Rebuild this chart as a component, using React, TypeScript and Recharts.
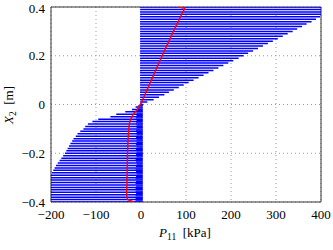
import React from 'react';
import { ComposedChart, Line, XAxis, YAxis, CartesianGrid, ReferenceArea } from 'recharts';

const X_TICKS = [-200, -100, 0, 100, 200, 300, 400];
const Y_TICKS = [-0.4, -0.2, 0, 0.2, 0.4];

// y positions of the blue stress bars
const Y_LEVELS = [
  0.4, 0.39, 0.38, 0.37, 0.36, 0.35, 0.34, 0.33, 0.32, 0.31,
  0.3, 0.29, 0.28, 0.27, 0.26, 0.25, 0.24, 0.23, 0.22, 0.21,
  0.2, 0.19, 0.18, 0.17, 0.16, 0.15, 0.14, 0.13, 0.12, 0.11,
  0.1, 0.09, 0.08, 0.07, 0.06, 0.05, 0.04, 0.03, 0.02, 0.01,
  0,
  -0.01, -0.02, -0.03, -0.04, -0.05, -0.06, -0.07, -0.08, -0.09, -0.1,
  -0.11, -0.12, -0.13, -0.14, -0.15, -0.16, -0.17, -0.18, -0.19, -0.2,
  -0.21, -0.22, -0.23, -0.24, -0.25, -0.26, -0.27, -0.28, -0.29, -0.3,
  -0.31, -0.32, -0.33, -0.34, -0.35, -0.36, -0.37, -0.38, -0.39, -0.4,
];
// P11 value reached by each bar (kPa)
const P_ENDS = [
  400, 400, 400, 400, 398, 389, 379, 368, 358, 347,
  337, 326, 315, 304, 293, 282, 271, 260, 249, 238,
  228, 217, 205, 194, 183, 172, 161, 150, 139, 128,
  117, 106, 95, 84, 73, 62, 52, 40, 28, 14,
  5,
  -12, -20, -35, -55, -68, -95, -108, -118, -124, -128,
  -135, -141, -145, -150, -153, -157, -160, -163, -166, -169,
  -173, -177, -181, -185, -189, -192, -195, -198, -200, -200,
  -200, -200, -200, -200, -200, -200, -200, -200, -200, -200,
];
const TOP_BASE = -2;
const BOTTOM_BASE = 4;

// dense short bars near zero in the lower half
const BAND_Y = [
  -0.005, -0.015, -0.025, -0.035, -0.045, -0.055, -0.065, -0.075, -0.085, -0.095,
  -0.105, -0.115, -0.125, -0.135, -0.145, -0.155, -0.165, -0.175, -0.185, -0.195,
  -0.205, -0.215, -0.225, -0.235, -0.245, -0.255, -0.265, -0.275, -0.285, -0.295,
  -0.305, -0.315, -0.325, -0.335, -0.345, -0.355, -0.365, -0.375, -0.385, -0.395,
];
const BAND_ENDS = [
  -6, -8, -9, -10, -10, -11, -10, -11, -10, -10,
  -11, -10, -10, -11, -10, -10, -11, -10, -11, -10,
  -11, -10, -12, -11, -10, -11, -12, -11, -10, -11,
  -12, -11, -12, -11, -12, -12, -11, -12, -12, -12,
];

// red mean curve
const RED_Y = [-0.4, -0.39, -0.37, -0.3, -0.2, -0.15, -0.1, -0.08, -0.06, -0.04, -0.02, 0, 0.1, 0.2, 0.3, 0.395, 0.4];
const RED_P = [-17, -30, -32, -31, -30, -29, -27, -26, -23, -17, -8, -1, 23, 47, 72, 97, 83];

const barData = Y_LEVELS.flatMap((y, i) => [
  { x: y >= 0 ? TOP_BASE : BOTTOM_BASE, y },
  { x: P_ENDS[i], y },
  { x: P_ENDS[i], y: null },
]);
const bandData = BAND_Y.flatMap((y, i) => [
  { x: BOTTOM_BASE, y },
  { x: BAND_ENDS[i], y },
  { x: BAND_ENDS[i], y: null },
]);
const redData = RED_Y.map((y, i) => ({ x: RED_P[i], y }));

const FONT = '"Liberation Serif", "Times New Roman", serif';
const fmt = (v: number) => String(v).replace('-', '\u2212');
const tickStyle = { fontFamily: FONT, fontSize: 13, fill: '#000' };

export default function App() {
  return (
    <div style={{ position: 'absolute', left: 0, top: 0, width: 333, height: 250, background: '#fff' }}>
      <ComposedChart width={333} height={250} margin={{ top: 7, right: 12, left: 0, bottom: 0 }}>
        <CartesianGrid stroke="#999" strokeDasharray="1 3" />
        <XAxis
          type="number"
          dataKey="x"
          domain={[-200, 400]}
          ticks={X_TICKS}
          allowDataOverflow
          height={48}
          tickFormatter={fmt}
          tick={tickStyle}
          tickLine={false}
          axisLine={false}
          label={{
            content: () => (
              <text x={185} y={237} textAnchor="middle" fontFamily={FONT} fontSize={13} fill="#000">
                <tspan fontStyle="italic">P</tspan>
                <tspan fontSize={9.5} dy={3}>11</tspan>
                <tspan dy={-3}>{'\u2002[kPa]'}</tspan>
              </text>
            ),
          }}
        />
        <YAxis
          type="number"
          dataKey="y"
          domain={[-0.4, 0.4]}
          ticks={Y_TICKS}
          allowDataOverflow
          width={51}
          tickFormatter={fmt}
          tick={tickStyle}
          tickLine={false}
          tickMargin={0}
          axisLine={false}
          label={{
            content: () => (
              <text transform="translate(13,105) rotate(-90)" textAnchor="middle" fontFamily={FONT} fontSize={13} fill="#000">
                <tspan fontStyle="italic">X</tspan>
                <tspan fontSize={9.5} dy={3}>2</tspan>
                <tspan dy={-3}>{'\u2002[m]'}</tspan>
              </text>
            ),
          }}
        />
        <Line
          data={barData}
          dataKey="y"
          type="linear"
          stroke="#0000ff"
          strokeWidth={1.5}
          dot={false}
          activeDot={false}
          connectNulls={false}
          isAnimationActive={false}
        />
        <Line
          data={bandData}
          dataKey="y"
          type="linear"
          stroke="#0000ff"
          strokeWidth={1.2}
          dot={false}
          activeDot={false}
          connectNulls={false}
          isAnimationActive={false}
        />
        <Line
          data={redData}
          dataKey="y"
          type="linear"
          stroke="#ff0000"
          strokeWidth={1.5}
          dot={false}
          activeDot={false}
          isAnimationActive={false}
        />
        <ReferenceArea x1={-200} x2={400} y1={-0.4} y2={0.4} fill="none" stroke="#333" strokeWidth={1} ifOverflow="visible" />
      </ComposedChart>
    </div>
  );
}
